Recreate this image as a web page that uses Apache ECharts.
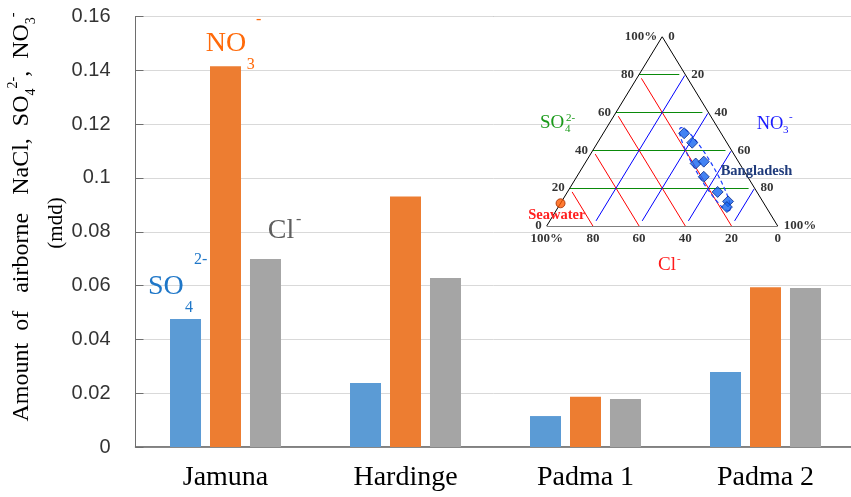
<!DOCTYPE html>
<html><head><meta charset="utf-8">
<script src="https://cdn.jsdelivr.net/npm/echarts@6/dist/echarts.min.js"></script>
<style>html,body{margin:0;padding:0;background:#fff}#c{width:851px;height:497px}</style>
</head><body><div id="c"></div>
<script>
// ---- bar chart data ----
const categories = ['Jamuna', 'Hardinge', 'Padma 1', 'Padma 2'];
const so4Values = [0.0476, 0.0238, 0.0115, 0.0279];
const no3Values = [0.1415, 0.0931, 0.0187, 0.0594];
const clValues  = [0.0699, 0.0628, 0.0178, 0.0591];
const yMin = 0, yMax = 0.16, yStep = 0.02;

// ---- ternary inset data (percent) ----
const ternTicks = [0, 20, 40, 60, 80, 100];
const ternTickLabels = ['0', '20', '40', '60', '80', '100%'];
const ternGridLevels = [20, 40, 60, 80];
const bdSO4 = [49, 44, 33, 34, 26, 18, 13, 10];
const bdNO3 = [35, 41, 48, 51, 55, 65, 72, 73];
const seaSO4 = [12];
const seaNO3 = [0];
const ellipseCenter = [30, 53.5]; // SO4, NO3

// ternary (SO4 %, NO3 %) -> inset cartesian [0..1]
function tern(so4, no3) { return [no3 / 100 + so4 / 200, so4 / 100]; }

const SERIF = '"Liberation Serif", "Times New Roman", serif';

function seg(a, b) { return { coords: [a, b] }; }
const triangle = [seg(tern(0,0), tern(0,100)), seg(tern(0,100), tern(100,0)), seg(tern(100,0), tern(0,0))];
const greenLines = ternGridLevels.map(s => seg(tern(s, 0), tern(s, 100 - s - 2.6)));
const redLines = ternGridLevels.map(c => seg(tern(0, 100 - c), tern(100 - c - 2, 2)));
const blueLines = ternGridLevels.map(n => seg(tern(2.7, n), tern(99.5 - n, n)));

const tickFont = { fontFamily: SERIF, fontWeight: 'bold', fontSize: 13, color: '#000' };
function tickSeries(points, position, distance) {
  return {
    type: 'scatter', xAxisIndex: 1, yAxisIndex: 1, symbolSize: 0, silent: true, z: 5,
    data: points,
    label: Object.assign({ show: true, position: position, distance: distance, formatter: '{b}' }, tickFont)
  };
}
const leftTicks = ternTicks.map((s, i) => ({ name: ternTickLabels[i], value: tern(s, 0) }));
const rightTicks = ternTicks.map((n, i) => ({ name: ternTickLabels[i], value: tern(100 - n, n) }));
const bottomTicks = ternTicks.map((c, i) => ({ name: ternTickLabels[i], value: tern(0, 100 - c) }));

function txt(x, y, text, size, color, weight) {
  return { type: 'text', x: x, y: y, z: 100, silent: true,
    style: { text: text, font: (weight || 'normal') + ' ' + size + 'px ' + SERIF, fill: color, align: 'left', verticalAlign: 'middle' } };
}

const chart = echarts.init(document.getElementById('c'));
chart.setOption({
  animation: false,
  backgroundColor: '#fff',
  grid: [
    { left: 135.5, top: 16.5, width: 720, height: 430.5, show: true, borderColor: '#7f7f7f', borderWidth: 1,
      containLabel: false, outerBoundsMode: 'none' },
    { left: 546.7, top: 36.7, width: 231, height: 189.3, outerBoundsMode: 'none' }
  ],
  xAxis: [
    { type: 'category', gridIndex: 0, data: categories,
      axisLine: { lineStyle: { color: '#6e6e6e', width: 1.5 } },
      axisTick: { show: false },
      axisLabel: { fontFamily: SERIF, fontSize: 28, color: '#000', margin: 17 } },
    { type: 'value', gridIndex: 1, min: 0, max: 1, show: false }
  ],
  yAxis: [
    { type: 'value', gridIndex: 0, min: yMin, max: yMax, interval: yStep,
      axisLine: { show: true, lineStyle: { color: '#6e6e6e', width: 1 } },
      axisTick: { show: true, inside: true, length: 8, lineStyle: { color: '#6e6e6e' } },
      splitLine: { lineStyle: { color: '#d9d9d9', width: 1 } },
      axisLabel: { fontFamily: '"Liberation Sans", Arial, sans-serif', fontSize: 20, color: '#333', margin: 25,
        formatter: v => String(+v.toFixed(2)) } },
    { type: 'value', gridIndex: 1, min: 0, max: 1, show: false }
  ],
  series: [
    { name: 'SO4', type: 'bar', data: so4Values, barWidth: 31, barGap: '29%', itemStyle: { color: '#5B9BD5' } },
    { name: 'NO3', type: 'bar', data: no3Values, barWidth: 31, barGap: '29%', itemStyle: { color: '#ED7D31' } },
    { name: 'Cl', type: 'bar', data: clValues, barWidth: 31, barGap: '29%', itemStyle: { color: '#A5A5A5' } },
    { type: 'lines', coordinateSystem: 'cartesian2d', xAxisIndex: 1, yAxisIndex: 1, silent: true, z: 3,
      data: greenLines, lineStyle: { color: '#0a8a0a', width: 1, opacity: 1 } },
    { type: 'lines', coordinateSystem: 'cartesian2d', xAxisIndex: 1, yAxisIndex: 1, silent: true, z: 3,
      data: redLines, lineStyle: { color: '#ff0000', width: 1, opacity: 1 } },
    { type: 'lines', coordinateSystem: 'cartesian2d', xAxisIndex: 1, yAxisIndex: 1, silent: true, z: 3,
      data: blueLines, lineStyle: { color: '#0000ff', width: 1, opacity: 1 } },
    { type: 'lines', coordinateSystem: 'cartesian2d', xAxisIndex: 1, yAxisIndex: 1, silent: true, z: 4,
      data: triangle, lineStyle: { color: '#000', width: 1, opacity: 1 } },
    tickSeries(leftTicks, 'left', 5),
    tickSeries(rightTicks, 'right', 6),
    tickSeries(bottomTicks, 'bottom', 6),
    { type: 'custom', xAxisIndex: 1, yAxisIndex: 1, silent: true, z: 6,
      data: [tern(ellipseCenter[0], ellipseCenter[1])],
      renderItem: function (params, api) {
        const c = api.coord([api.value(0), api.value(1)]);
        const ang = 59.5 * Math.PI / 180, a = 48, b = 8.5;
        const pts = [];
        for (let i = 0; i < 72; i++) {
          const t = i / 72 * 2 * Math.PI;
          const ca = Math.cos(t) * a, sb = Math.sin(t) * b;
          pts.push([c[0] + ca * Math.cos(ang) - sb * Math.sin(ang), c[1] + ca * Math.sin(ang) + sb * Math.cos(ang)]);
        }
        return { type: 'polygon', shape: { points: pts }, style: { fill: 'none', stroke: '#1a3cff', lineWidth: 1.2, lineDash: [4, 3] } };
      } },
    { type: 'scatter', xAxisIndex: 1, yAxisIndex: 1, silent: true, z: 7, symbol: 'diamond', symbolSize: 11,
      data: bdSO4.map((s, i) => tern(s, bdNO3[i])),
      itemStyle: { color: '#1464f0', borderColor: '#0a2a8a', borderWidth: 1 } },
    { type: 'scatter', xAxisIndex: 1, yAxisIndex: 1, silent: true, z: 7, symbol: 'circle', symbolSize: 9,
      data: seaSO4.map((s, i) => tern(s, seaNO3[i])),
      itemStyle: { color: '#ff5a00', borderColor: '#a02a00', borderWidth: 1 } }
  ],
  graphic: [
    // y-axis title
    { type: 'text', x: 22, y: 217, rotation: Math.PI / 2, z: 100, silent: true,
      style: { text: 'Amount  of   airborne   NaCl,  SO{sub|4}{sup|2-},  NO{sub|3}{sup|-}',
        font: 'normal 24px ' + SERIF, fill: '#000', align: 'center', verticalAlign: 'middle', lineHeight: 32,
        rich: { sub: { fontSize: 14, fontFamily: SERIF, verticalAlign: 'bottom' },
                sup: { fontSize: 14, fontFamily: SERIF, verticalAlign: 'top' } } } },
    { type: 'text', x: 56, y: 223, rotation: Math.PI / 2, z: 100, silent: true,
      style: { text: '(mdd)', font: 'normal 21px ' + SERIF, fill: '#000', align: 'center', verticalAlign: 'middle' } },
    // big labels in bar chart
    txt(148, 287, 'SO', 28, '#1f77c8'), txt(185, 308, '4', 16, '#1f77c8'), txt(194, 259.5, '2-', 16, '#1f77c8'),
    txt(205.7, 44, 'NO', 28, '#ff6a0a'), txt(246.7, 64.5, '3', 16, '#ff6a0a'), txt(256, 19.5, '-', 16, '#ff6a0a'),
    txt(267.7, 230.5, 'Cl', 28, '#5f5f5f'), txt(296, 220, '-', 16, '#5f5f5f'),
    // ternary labels
    txt(540, 123, 'SO', 19, '#1a9a1a'), txt(565, 129.5, '4', 11, '#1a9a1a'), txt(566, 118.5, '2-', 11, '#1a9a1a'),
    txt(756.7, 124, 'NO', 18.5, '#1a1aff'), txt(783, 130.5, '3', 11, '#1a1aff'), txt(789, 117, '-', 11, '#1a1aff'),
    txt(658, 265, 'Cl', 19, '#ff1a1a'), txt(677, 259, '-', 11, '#ff1a1a'),
    txt(720.7, 171.5, 'Bangladesh', 14.5, '#1f3b7b', 'bold'),
    txt(528.3, 215.4, 'Seawater', 14.5, '#ff2020', 'bold')
  ]
});
</script>
</body></html>
